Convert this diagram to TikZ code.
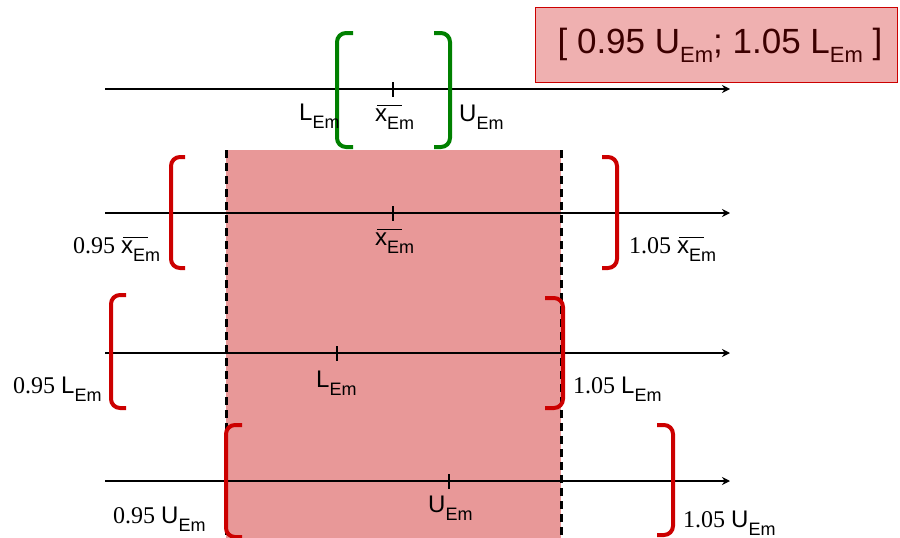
\documentclass[tikz,border=0pt]{standalone}
\usepackage{fontspec}
\setmainfont{Liberation Serif}
\setsansfont{Liberation Sans}
\usetikzlibrary{arrows.meta}
\definecolor{bandred}{RGB}{232,152,152}
\definecolor{boxred}{RGB}{239,176,176}
\definecolor{brkred}{RGB}{204,0,0}
\definecolor{brkgreen}{RGB}{0,128,0}
\definecolor{txtred}{RGB}{60,0,0}
\newcommand{\Em}{\raisebox{-8pt}{\sffamily\fontsize{18}{18}\selectfont Em}}
\newcommand{\EmBig}{\raisebox{-9pt}{\sffamily\fontsize{22}{22}\selectfont Em}}
\newcommand{\xbar}{{\sffamily\rlap{\kern0.08em\rule[0.63em]{1.04em}{0.05em}}x}}

\begin{document}
\begin{tikzpicture}[x=1pt, y=-1pt, font=\sffamily\fontsize{24}{28}\selectfont]
\tikzset{
  axis/.style={-{Stealth[length=8pt,width=8pt]}, line width=1.2pt},
  tick/.style={line width=1.2pt},
  cut/.style={dash pattern=on 8pt off 5pt, line width=3pt},
  brk/.style={line width=4pt, rounded corners=9pt, brkred},
  lbl/.style={inner sep=0pt, anchor=base west},
  num/.style={lbl, font=\rmfamily\fontsize{24}{28}\selectfont},
  res/.style={rectangle, draw=brkred, fill=boxred, line width=1pt, inner sep=0pt,
    minimum width=362pt, text height=45.5pt, text depth=29pt, text=txtred,
    font=\sffamily\fontsize{35}{40}\selectfont},
}
\useasboundingbox (0,0) rectangle (900,538);
\fill[bandred] (226,150) rectangle (561,538);
\coordinate (c1) at (226,150);
\coordinate (c2) at (226,538);
\coordinate (c3) at (561,150);
\coordinate (c4) at (561,538);
\draw[cut] (c1) -- (c2);
\draw[cut] (c3) -- (c4);

\coordinate (s1) at (105,89);
\coordinate (e1) at (730,89);
\coordinate (s2) at (105,213);
\coordinate (e2) at (730,213);
\coordinate (s3) at (105,353);
\coordinate (e3) at (730,353);
\coordinate (s4) at (105,481);
\coordinate (e4) at (730,481);
\draw[axis] (s1) -- (e1);
\draw[axis] (s2) -- (e2);
\draw[axis] (s3) -- (e3);
\draw[axis] (s4) -- (e4);

\coordinate (m1) at (393,89);
\coordinate (m2) at (393,213);
\coordinate (m3) at (337,353);
\coordinate (m4) at (449,481);
\draw[tick] (m1) ++(0,-7) -- ++(0,15);
\draw[tick] (m2) ++(0,-7) -- ++(0,15);
\draw[tick] (m3) ++(0,-7) -- ++(0,15);
\draw[tick] (m4) ++(0,-7) -- ++(0,15);

\draw[brk, brkgreen] (353,33) -- (337,33) -- (337,147) -- (353,147);
\draw[brk, brkgreen] (434,33) -- (450,33) -- (450,147) -- (434,147);
\draw[brk] (185,157) -- (171,157) -- (171,268) -- (185,268);
\draw[brk] (602,157) -- (617,157) -- (617,268) -- (602,268);
\draw[brk] (126,295) -- (111,295) -- (111,408) -- (126,408);
\draw[brk] (545,298) -- (563,298) -- (563,408) -- (545,408);
\draw[brk] (242,425) -- (226,425) -- (226,537) -- (242,537);
\draw[brk] (657,425) -- (673,425) -- (673,535) -- (657,535);

\node[lbl] (lo1) at (299,120) {L\Em};
\node[lbl] (mid1) at (375,121) {\xbar\Em};
\node[lbl] (up1) at (459,121) {U\Em};
\node[lbl] (mid2) at (375,245) {\xbar\Em};
\node[num] (lo2) at (73,253) {0.95 \xbar\Em};
\node[num] (up2) at (629,253) {1.05 \xbar\Em};
\node[lbl] (mid3) at (316,387) {L\Em};
\node[num] (lo3) at (13,393) {0.95 {\sffamily L}\Em};
\node[num] (up3) at (573,393) {1.05 {\sffamily L}\Em};
\node[lbl] (mid4) at (428,512) {U\Em};
\node[num] (lo4) at (113,523) {0.95 {\sffamily U}\Em};
\node[num] (up4) at (683,527) {1.05 {\sffamily U}\Em};

\node[res] (res) at (716,44.75) {\kern8pt[ 0.95 U\EmBig; 1.05 L\EmBig\ ]};
\end{tikzpicture}
\end{document}
